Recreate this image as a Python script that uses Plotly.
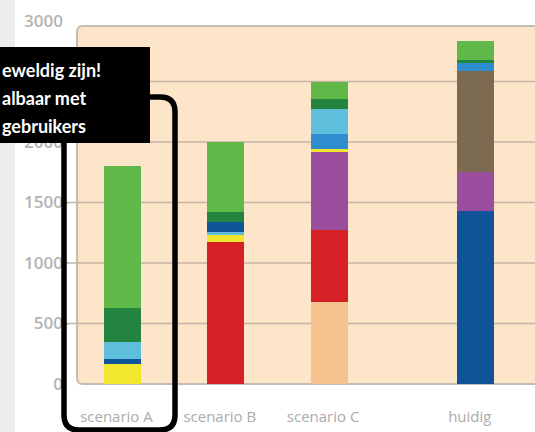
import plotly.graph_objects as go

# Categories along the x axis and where each stacked column sits
categories = ["scenario A", "scenario B", "scenario C", "huidig"]
x_pos = [1, 2, 3, 4.42]

# Stack contents per column, listed bottom to top
stack_a_names = ["geel", "donkerblauw", "lichtblauw", "donkergroen", "lichtgroen"]
stack_a_values = [165, 40, 145, 280, 1170]

stack_b_names = ["rood", "geel", "lichtblauw", "donkerblauw", "donkergroen", "lichtgroen"]
stack_b_values = [1170, 60, 30, 75, 85, 580]

stack_c_names = ["perzik", "rood", "paars", "geel", "blauw", "lichtblauw", "donkergroen", "lichtgroen"]
stack_c_values = [680, 590, 650, 20, 125, 205, 85, 145]

stack_h_names = ["donkerblauw", "paars", "bruin", "blauw", "donkergroen", "lichtgroen"]
stack_h_values = [1430, 320, 840, 60, 25, 160]

y_ticks = [0, 500, 1000, 1500, 2000, 2500, 3000]
# the 2500 label sits fully under the callout box, so it is left empty
y_tick_text = ["0", "500", "1000", "1500", "2000", "", "3000"]

colors = {
    "geel": "#f2e62e",
    "donkerblauw": "#0f5499",
    "blauw": "#2f8ccf",
    "lichtblauw": "#5dbfdc",
    "donkergroen": "#23843f",
    "lichtgroen": "#5fb848",
    "rood": "#d61f27",
    "perzik": "#f6c28e",
    "paars": "#9b4d9e",
    "bruin": "#7b6a50",
}

stacks = [
    (stack_a_names, stack_a_values),
    (stack_b_names, stack_b_values),
    (stack_c_names, stack_c_values),
    (stack_h_names, stack_h_values),
]

fig = go.Figure()
for xi, (names, values) in zip(x_pos, stacks):
    base = 0
    for name, val in zip(names, values):
        fig.add_trace(go.Bar(
            x=[xi], y=[val], base=[base], width=0.358,
            marker=dict(color=colors[name], line=dict(width=0)),
            name=name, showlegend=False,
        ))
        base += val

# Pixel helpers for decorations around the plot area
W, H = 535, 432
L, R, T, B = 64, 535, 21, 384


def px(x):
    return (x - L) / (R - L)


def py(y):
    return (B - y) / (B - T)


shapes = []
# grey strip at the far left
shapes.append(dict(type="rect", xref="paper", yref="paper",
                   x0=px(-5), x1=px(15), y0=py(440), y1=py(-10),
                   fillcolor="#ececec", line=dict(width=0), layer="below"))
# peach panel with rounded left corners
r = 6
path = (f"M {px(545)},{py(26)} L {px(77 + r)},{py(26)} "
        f"Q {px(77)},{py(26)} {px(77)},{py(26 + r)} "
        f"L {px(77)},{py(384 - r)} Q {px(77)},{py(384)} {px(77 + r)},{py(384)} "
        f"L {px(545)},{py(384)} Z")
shapes.append(dict(type="path", xref="paper", yref="paper", path=path,
                   fillcolor="#fde5ca", line=dict(color="#c6bcb1", width=2),
                   layer="below"))
# horizontal grid lines
for v in y_ticks[1:-1]:
    shapes.append(dict(type="line", xref="paper", yref="y", x0=0, x1=1.02,
                       y0=v, y1=v, line=dict(color="#c4b5a7", width=1.5),
                       layer="below"))
# black callout box
shapes.append(dict(type="rect", xref="paper", yref="paper",
                   x0=px(-5), x1=px(150), y0=py(143), y1=py(47),
                   fillcolor="black", line=dict(width=0), layer="above"))
# rounded outline around the first column
lx, rx, ty, by, rr = 64, 175, 97, 430, 15
outline = (f"M {px(lx)},{py(by - rr)} L {px(lx)},{py(ty + rr)} "
           f"Q {px(lx)},{py(ty)} {px(lx + rr)},{py(ty)} "
           f"L {px(rx - rr)},{py(ty)} Q {px(rx)},{py(ty)} {px(rx)},{py(ty + rr)} "
           f"L {px(rx)},{py(by - rr)} Q {px(rx)},{py(by)} {px(rx - rr)},{py(by)} "
           f"L {px(lx + rr)},{py(by)} Q {px(lx)},{py(by)} {px(lx)},{py(by - rr)} Z")
shapes.append(dict(type="path", xref="paper", yref="paper", path=outline,
                   fillcolor="rgba(0,0,0,0)", line=dict(color="black", width=5.5),
                   layer="above"))

callout_lines = ["eweldig zijn!", "albaar met", "gebruikers"]
callout_y = [70, 98, 126]
annotations = [
    dict(text=t, xref="paper", yref="paper", x=px(0), y=py(yy),
         xanchor="left", yanchor="middle", showarrow=False,
         font=dict(family="Lato", size=18, color="white", weight="bold"))
    for t, yy in zip(callout_lines, callout_y)
]

fig.update_layout(
    width=W, height=H,
    margin=dict(l=L, r=W - R, t=T, b=H - B, pad=0),
    paper_bgcolor="white", plot_bgcolor="rgba(0,0,0,0)",
    barmode="overlay", bargap=0,
    shapes=shapes, annotations=annotations,
    xaxis=dict(range=[0.434, 4.993], tickvals=x_pos, ticktext=categories,
               showgrid=False, zeroline=False, showline=False, ticks="",
               ticklabelstandoff=22, ticklabelshift=-6,
               tickfont=dict(family="Open Sans", size=15, color="#ababab")),
    yaxis=dict(range=[0, 3000], tickvals=y_ticks, ticktext=y_tick_text,
               showgrid=False, zeroline=False, showline=False,
               ticks="inside", ticklen=4, tickcolor="#b8b8b8", tickwidth=1.5,
               tickfont=dict(family="Open Sans", size=17, color="#b3b3b3", weight=600)),
    showlegend=False,
)

fig.write_html("out.html")
